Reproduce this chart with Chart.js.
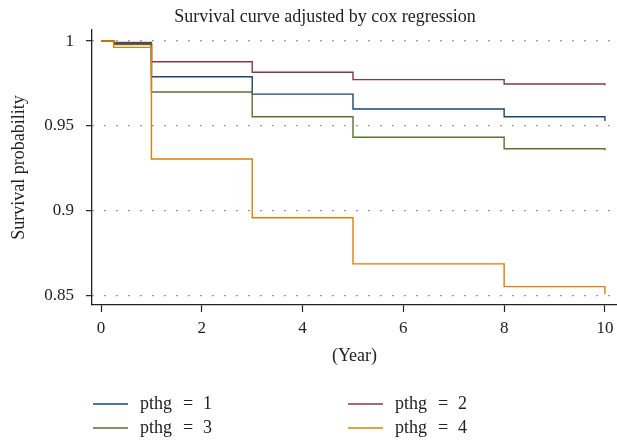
<!DOCTYPE html>
<html>
<head>
<meta charset="utf-8">
<script src="https://cdn.jsdelivr.net/npm/chart.js@4.4.0/dist/chart.umd.min.js"></script>
<style>
  html, body { margin: 0; padding: 0; background: #fff; }
</style>
</head>
<body>
<canvas id="canvas" width="617" height="442"></canvas>
<script>
// survival estimates
const years = [0, 0.25, 1, 3, 5, 8, 10];
const pthg1 = [1, 0.9985, 0.979, 0.9688, 0.960, 0.9555, 0.953];
const pthg2 = [1, 0.9992, 0.9878, 0.9816, 0.9773, 0.9747, 0.974];
const pthg3 = [1, 0.998, 0.970, 0.9555, 0.9434, 0.9366, 0.9357];
const pthg4 = [1, 0.9963, 0.9306, 0.896, 0.8689, 0.8555, 0.851];
const seriesNames = ['pthg = 1', 'pthg = 2', 'pthg = 3', 'pthg = 4'];
const xTicks = [0, 2, 4, 6, 8, 10];
const yTicks = [0.85, 0.9, 0.95, 1];
const yTickLabels = ['0.85', '0.9', '0.95', '1'];

const colors = ['#1a476f', '#90353b', '#55752f', '#e37e00'];
const serif = 'Liberation Serif';
const ink = '#222';

const toPoints = (vals) => years.map((t, i) => ({ x: t, y: vals[i] }));

const datasets = [pthg1, pthg2, pthg3, pthg4].map((vals, i) => ({
    label: seriesNames[i],
    data: toPoints(vals),
    borderColor: colors[i],
    borderWidth: 1.4,
    stepped: 'before',
    pointRadius: 0,
    fill: false,
    order: 4 - i
}));

const extras = {
    id: 'extras',
    afterDraw(chart) {
        const ctx = chart.ctx;
        ctx.save();
        ctx.fillStyle = ink;
        ctx.textBaseline = 'middle';
        ctx.textAlign = 'center';
        ctx.font = '18px "' + serif + '"';
        ctx.fillText('Survival curve adjusted by cox regression', 325, 17);

        // two-column legend
        ctx.font = '18px "' + serif + '"';
        ctx.textAlign = 'left';
        const cols = [93, 348];
        const rows = [404, 428];
        chart.data.datasets.forEach((ds, i) => {
            const x = cols[i % 2];
            const y = rows[Math.floor(i / 2)];
            ctx.strokeStyle = ds.borderColor;
            ctx.lineWidth = 1.4;
            ctx.beginPath();
            ctx.moveTo(x, y);
            ctx.lineTo(x + 35, y);
            ctx.stroke();
            ctx.fillStyle = ink;
            const parts = ds.label.split(' ');
            ctx.fillText(parts[0], x + 47, y);
            ctx.fillText(parts[1], x + 47 + 43, y);
            ctx.fillText(parts[2], x + 47 + 63, y);
        });
        ctx.restore();
    }
};

const myChart = new Chart(
    document.getElementById('canvas'),
    {
        type: 'line',
        data: { datasets: datasets },
        plugins: [extras],
        options: {
            responsive: false,
            animation: false,
            layout: { padding: { top: 30, right: 0, bottom: 70, left: 0 } },
            plugins: {
                legend: { display: false },
                tooltip: { enabled: false }
            },
            scales: {
                x: {
                    type: 'linear',
                    min: -0.18,
                    max: 10.24,
                    afterBuildTicks: (s) => { s.ticks = xTicks.map(v => ({ value: v })); },
                    afterFit: (s) => { s.height = 67; s.paddingLeft = 0; s.paddingRight = 0; },
                    grid: { drawOnChartArea: false, tickLength: 7, tickColor: ink, tickWidth: 1.2 },
                    border: { color: ink, width: 1.3 },
                    ticks: { color: ink, font: { family: serif, size: 17 }, padding: 6, maxRotation: 0, autoSkip: false },
                    title: { display: true, text: '(Year)', color: ink, font: { family: serif, size: 18 }, padding: { top: 4, bottom: 5 } }
                },
                y: {
                    type: 'linear',
                    min: 0.8447,
                    max: 1.0065,
                    afterBuildTicks: (s) => { s.ticks = yTicks.map(v => ({ value: v })); },
                    afterFit: (s) => { s.width = 92; s.paddingTop = 0; s.paddingBottom = 0; },
                    grid: { color: '#666', lineWidth: 1.3, tickLength: 6, tickColor: ink, tickWidth: 1.2, tickBorderDash: [] },
                    border: { color: ink, width: 1.3, dash: [1.3, 10.7] },
                    ticks: {
                        color: ink,
                        font: { family: serif, size: 17 },
                        padding: 12,
                        callback: (v, i) => yTickLabels[i]
                    },
                    title: { display: true, text: 'Survival probability', color: ink, font: { family: serif, size: 18 }, padding: { top: 8, bottom: 4 } }
                }
            }
        }
    }
);
</script>
</body>
</html>
